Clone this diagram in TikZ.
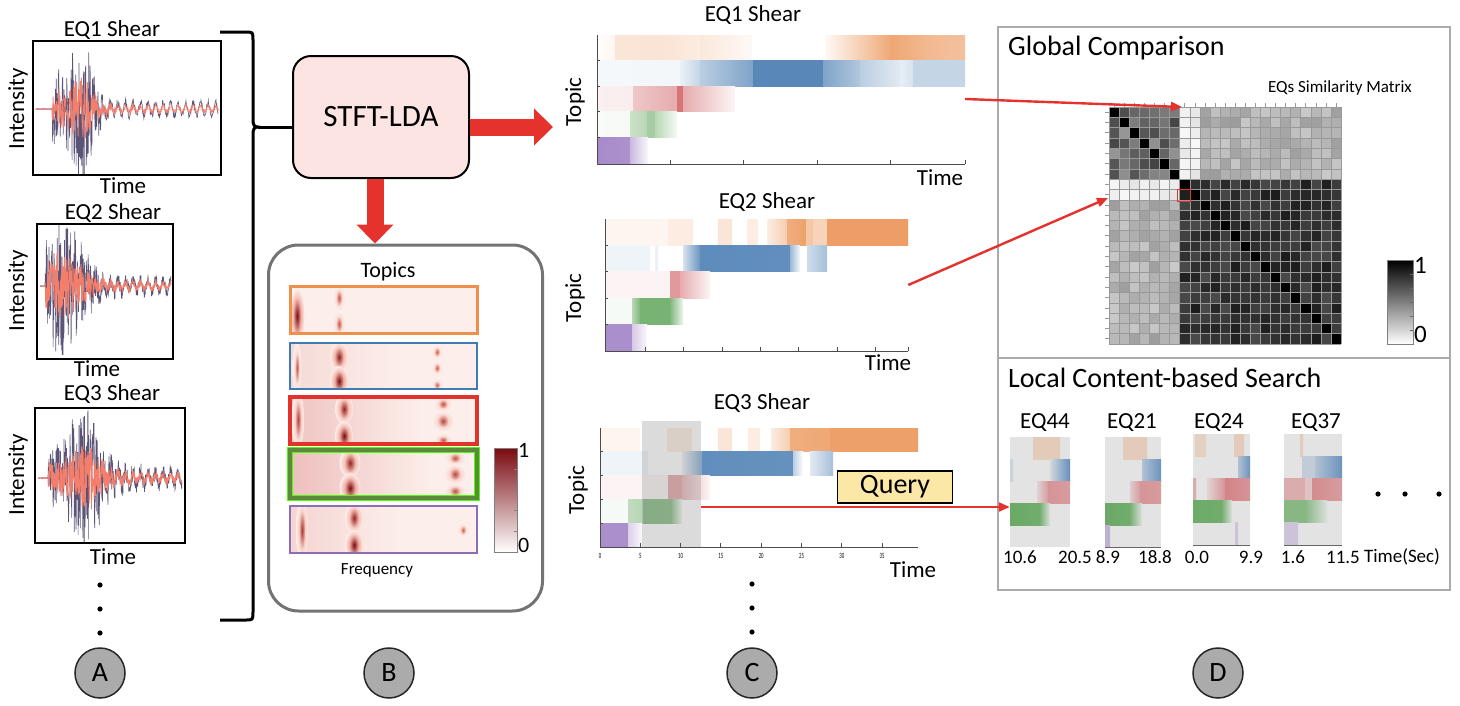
\documentclass[tikz,border=0pt]{standalone}
\usepackage{fontspec}
\setmainfont{Carlito}
\usetikzlibrary{arrows.meta, positioning, calc}
\definecolor{tOra}{HTML}{E8823A}
\definecolor{tBlu}{HTML}{3A72AC}
\definecolor{tRed}{HTML}{C8454A}
\definecolor{tGrn}{HTML}{4C9A45}
\definecolor{tPur}{HTML}{8A63B8}
\definecolor{frOra}{HTML}{EE8F4C}
\definecolor{frBlu}{HTML}{3F7CB6}
\definecolor{frRed}{HTML}{E3312B}
\definecolor{frGrn}{HTML}{5B8B3A}
\definecolor{frPur}{HTML}{8C6DB7}
\definecolor{arrowred}{HTML}{E5322D}
\definecolor{stftfill}{HTML}{FBE4E2}
\definecolor{tpbg}{HTML}{FCEEEA}
\definecolor{tpdark}{HTML}{7A0A10}
\definecolor{cbmid}{HTML}{E86A55}
\definecolor{queryfill}{HTML}{FCE8A6}
\definecolor{panelgray}{HTML}{ABABAB}
\definecolor{wavedark}{HTML}{3F365F}
\definecolor{wavesalmon}{HTML}{F47E6C}
\definecolor{minibg}{HTML}{E3E3E3}
\newcommand\fsBig{\fontsize{31}{35}\selectfont}
\newcommand\fsHead{\fontsize{28}{32}\selectfont}
\newcommand\fsMid{\fontsize{23}{27}\selectfont}
\newcommand\fsSmall{\fontsize{17}{20}\selectfont}
\newcommand\fsNum{\fontsize{19}{22}\selectfont}
% one row of a topic heatmap: [mix colour]{y}{height}{colour}{x1/x2/i1/i2,...}
\newcommand\hrow[5][white]{\foreach \xa/\xb/\ia/\ib in {#5}{\shade[left color=#4!\ia!#1, right color=#4!\ib!#1] (\xa,#2) rectangle (\xb,#2+#3);}}
% seismogram: {x1}{x2}{centre}{onset}{peak}{width}{amplitude}{decay}{style}
\newcommand\wave[9]{\draw[#9] plot[domain=#1:#2,samples=450] (\x,{#3+((\x<#4)?0.3:(#7*exp(-((\x-#5)/#6)*((\x-#5)/#6))+0.5*#7*exp(-(\x-#4)/#8)+0.05*#7))*rand+((\x<#4)?0:0.12*#7*sin(48*\x))});}
% spectral blob in a topic strip: red halo, dark core
\newcommand\blob[5]{\pgfmathsetmacro\blmix{0.42*#5}%
  \shade[inner color=cbmid!#5!tpbg, outer color=tpbg] (#1,#2) ellipse ({1.5*#3} and {1.25*#4});
  \shade[inner color=tpdark!#5!cbmid, outer color=cbmid!\blmix!tpbg] (#1,#2) ellipse ({0.8*#3} and {0.8*#4});}
\begin{document}
\begin{tikzpicture}[x=1pt,y=-1pt,
    plotbox/.style={draw=black, line width=1.3pt},
    wvdark/.style={draw=wavedark, line width=0.6pt, opacity=0.85},
    wvlight/.style={draw=wavesalmon, line width=0.8pt},
    stftbox/.style={rectangle, draw=black, fill=stftfill, line width=2pt, rounded corners=18pt, minimum width=176pt, minimum height=122pt, font=\fsBig},
    topicsbox/.style={rectangle, draw=black!55, line width=3pt, rounded corners=30pt, minimum width=274pt, minimum height=366pt},
    bigarrow/.style={draw=arrowred, line width=17pt, -{Triangle[length=19pt,width=36pt]}},
    redline/.style={draw=arrowred, line width=2.4pt, -{Triangle[length=11pt,width=9pt]}},
    hmframe/.style={inner sep=0pt, minimum width=#1},
    axisln/.style={draw=black!70, line width=1pt},
    panel/.style={rectangle, draw=panelgray, line width=2.5pt, inner sep=0pt},
    query/.style={rectangle, draw=black, fill=queryfill, line width=1.3pt, minimum width=115pt, minimum height=32pt, font=\fsHead},
    tag/.style={circle, draw=black!85, fill=panelgray, line width=1.5pt, minimum size=50pt, inner sep=0pt, font=\fsHead},
    mid/.style={font=\fsMid, inner sep=1pt},
    small/.style={font=\fsSmall, inner sep=1pt},
    num/.style={font=\fsNum, inner sep=1pt},
]
\useasboundingbox (0,0) rectangle (1460,705);
\pgfmathsetseed{17}

% ---------------- A: seismograms
\node[mid] (a1t) at (112,30) {EQ1 Shear};
\node[mid] (a2t) at (113,213) {EQ2 Shear};
\node[mid] (a3t) at (112,394) {EQ3 Shear};
\begin{scope}
  \clip (33,41) rectangle (221,175);
  \draw[wavesalmon!40] (33,109) -- (221,109);
  \wave{36}{218}{109}{52}{80}{16}{56}{25}{wvdark}
  \wave{36}{218}{109}{52}{80}{16}{26}{25}{wvlight}
\end{scope}
\begin{scope}
  \clip (37,224) rectangle (173,359);
  \wave{40}{171}{286}{45}{64}{22}{50}{45}{wvdark}
  \wave{40}{171}{286}{45}{64}{22}{24}{45}{wvlight}
\end{scope}
\begin{scope}
  \clip (35,408) rectangle (185,543);
  \wave{38}{182}{478}{48}{85}{18}{55}{60}{wvdark}
  \wave{38}{182}{478}{48}{85}{18}{26}{60}{wvlight}
\end{scope}
\draw[plotbox] (33,41) rectangle (221,175);
\draw[plotbox] (37,224) rectangle (173,359);
\draw[plotbox] (35,408) rectangle (185,543);
\node[mid, rotate=90] (a1y) at (18,109) {Intensity};
\node[mid, rotate=90] (a2y) at (18,291) {Intensity};
\node[mid, rotate=90] (a3y) at (18,475) {Intensity};
\node[mid] (a1x) at (123,186) {Time};
\node[mid] (a2x) at (97,369) {Time};
\node[mid] (a3x) at (113,557) {Time};
\foreach \y in {585,609,633} \fill (100,\y) circle (2.6);

% brace into STFT-LDA
\coordinate (bt) at (258,127);
\draw[line width=3pt] (220,32) -- (245,32) .. controls (253,32) .. (253,40) -- (253,119)
  .. controls (253,125) and (254,127) .. (bt)
  .. controls (254,127) and (253,129) .. (253,135) -- (253,612)
  .. controls (253,620) .. (245,620) -- (220,620);

% ---------------- B: STFT-LDA and topics
\node[stftbox] (stft) at (381,117) {STFT-LDA};
\draw[line width=3pt] (bt) -- (bt -| stft.west);
\node[topicsbox] (topics) at (405.5,428) {};
\draw[bigarrow] (bt -| stft.east) -- (553,127);
\draw[bigarrow] (stft.south -| 375,0) -- (topics.north -| 375,0);
\node[mid, font=\fontsize{22}{26}\selectfont] (tptitle) at (388,272) {Topics};
\begin{scope}
  \clip (290,286) rectangle (477,333);
  \fill[tpbg] (290,286) rectangle (477,333);
  \blob{297}{316}{5}{22}{100}\blob{339}{298}{4}{10}{25}\blob{339}{324}{4}{10}{25}
\end{scope}
\begin{scope}
  \clip (290,343) rectangle (477,389);
  \fill[tpbg] (290,343) rectangle (477,389);
  \shade[left color=tRed!12!tpbg, right color=tpbg] (290,343) rectangle (400,389);
  \blob{297}{368}{3}{20}{25}\blob{339}{357}{6}{12}{80}\blob{339}{381}{6}{12}{100}
  \blob{437}{352}{4}{6}{15}\blob{437}{368}{4}{6}{15}\blob{437}{385}{4}{5}{15}
\end{scope}
\begin{scope}
  \clip (290,397) rectangle (477,444);
  \fill[tpbg] (290,397) rectangle (477,444);
  \shade[left color=tRed!25!tpbg, right color=tpbg] (290,397) rectangle (420,444);
  \blob{298}{420}{4}{24}{45}\blob{344}{409}{6}{12}{75}\blob{344}{436}{6}{12}{100}
  \blob{443}{404}{6}{6}{30}\blob{443}{421}{7}{8}{40}\blob{443}{440}{6}{5}{30}
\end{scope}
\begin{scope}
  \clip (290,450) rectangle (477,498);
  \fill[tpbg] (290,450) rectangle (477,498);
  \shade[left color=tRed!28!tpbg, right color=tpbg] (290,450) rectangle (430,498);
  \blob{350}{463}{7}{12}{75}\blob{350}{488}{7}{12}{100}
  \blob{455}{458}{7}{6}{30}\blob{455}{474}{7}{8}{40}\blob{455}{491}{7}{6}{35}
\end{scope}
\begin{scope}
  \clip (290,506) rectangle (477,553);
  \fill[tpbg] (290,506) rectangle (477,553);
  \shade[left color=tRed!15!tpbg, right color=tpbg] (290,506) rectangle (400,553);
  \blob{302}{530}{4}{24}{55}\blob{354}{518}{6}{12}{75}\blob{354}{545}{6}{12}{100}\blob{463}{530}{4}{6}{12}
\end{scope}
\draw[frOra, line width=3pt] (290,286) rectangle (477,333);
\draw[frBlu, line width=2.5pt] (290,343) rectangle (477,389);
\draw[frRed, line width=3.5pt] (290,397) rectangle (477,444);
\draw[green!60!lime, line width=6.5pt] (290,450) rectangle (477,498);
\draw[frGrn, line width=4.5pt] (290,450) rectangle (477,498);
\draw[frPur, line width=2.5pt] (290,506) rectangle (477,553);
\node[small] (freq) at (377,570) {Frequency};
\shade[top color=tpdark, middle color=cbmid, bottom color=white] (494,448) rectangle (517,552);
\draw[black!50, line width=0.6pt] (494,448) rectangle (517,552);
\foreach \y in {469,490,510,531} \draw[black!50] (517,\y) -- ++(-3,0);
\node[mid, anchor=west, font=\fontsize{22}{26}\selectfont] (cb1) at (517,450) {1};
\node[mid, anchor=west, font=\fontsize{22}{26}\selectfont] (cb0) at (517,545) {0};

% ---------------- C: topic activations over time
\node[mid] (c1t) at (753,15) {EQ1 Shear};
\node[hmframe=368pt, minimum height=128pt] (hm1) at (781,99) {};
\hrow{35}{25.6}{tOra}{597/615/0/8, 615/660/20/22, 660/700/22/15, 700/752/18/5, 825/867/5/45, 867/893/45/72, 893/930/70/55, 930/965/55/50}
\hrow{60.6}{25.6}{tBlu}{597/680/5/6, 680/700/10/30, 700/753/35/65, 753/823/85/85, 823/860/65/40, 860/900/35/15, 900/913/12/20, 913/965/30/30}
\hrow{86.2}{25.6}{tRed}{597/633/8/10, 633/677/30/45, 677/683/75/75, 683/735/45/5}
\hrow{111.8}{25.6}{tGrn}{597/630/4/5, 630/647/30/40, 647/655/50/50, 655/677/40/5}
\hrow{137.4}{25.6}{tPur}{597/630/75/70, 630/648/45/5}
\draw[axisln] (597,35) -- (597,164) -- (965,164);
\foreach \x in {670,743,817,890,965} \draw[axisln] (\x,164) -- ++(0,-4);
\foreach \y in {60.6,86.2,111.8,137.4} \draw[axisln] (597,\y) -- ++(3,0);
\node[mid, rotate=90] (c1y) at (575,102) {Topic};
\node[mid] (c1x) at (940,178) {Time};

\node[mid] (c2t) at (767,202) {EQ2 Shear};
\node[hmframe=303pt, minimum height=132pt] (hm2) at (756.5,285) {};
\hrow{219}{26.4}{tOra}{605/668/8/8, 668/693/15/15, 718/732/20/20, 747/758/15/15, 767/787/15/40, 787/806/65/75, 806/813/45/45, 813/827/35/35, 827/908/78/78}
\hrow{245.4}{26.4}{tBlu}{605/650/8/8, 655/658/10/10, 683/700/20/75, 700/790/82/80, 790/800/50/5, 807/827/25/45}
\hrow{271.8}{26.4}{tRed}{605/670/6/6, 670/680/55/55, 680/710/45/5}
\hrow{298.2}{26.4}{tGrn}{605/632/5/5, 632/640/40/70, 640/670/75/75, 670/683/70/10}
\hrow{324.6}{26.4}{tPur}{605/632/72/72, 632/647/35/5}
\draw[axisln] (605,219) -- (605,351) -- (908,351);
\foreach \x in {645,683,722,760,798,837,875,908} \draw[axisln] (\x,351) -- ++(0,-4);
\foreach \y in {245.4,271.8,298.2,324.6} \draw[axisln] (605,\y) -- ++(3,0);
\node[mid, rotate=90] (c2y) at (575,298) {Topic};
\node[mid] (c2x) at (888,363) {Time};

\node[mid] (c3t) at (762,403) {EQ3 Shear};
\hrow{428}{23.8}{tOra}{600/640/8/8, 667/692/15/15, 718/732/20/20, 748/760/15/15, 771/790/15/40, 790/830/65/70, 830/918/76/76}
\hrow{451.8}{23.8}{tBlu}{600/648/8/8, 682/702/10/65, 702/793/80/78, 793/803/35/0, 810/833/15/45}
\hrow{475.6}{23.8}{tRed}{600/668/6/6, 668/682/50/50, 682/710/40/5}
\hrow{499.4}{23.8}{tGrn}{600/628/5/5, 628/643/35/40, 643/672/72/70, 672/682/60/5}
\hrow{523.2}{23.8}{tPur}{600/628/72/72, 628/642/30/5}
\node[fill=black!40, opacity=0.35, inner sep=0pt, minimum width=59pt, minimum height=126pt] (qwin) at (671.5,484) {};
\draw[axisln] (600,428) -- (600,547) -- (918,547);
\foreach \t [count=\k from 0] in {0,5,...,35}{
  \draw[axisln] ({600+\k*40.3},547) -- ++(0,-4);
  \node[font=\fontsize{8}{9}\selectfont, inner sep=0pt, xscale=0.6] at ({600+\k*40.3},556) {\t};}
\foreach \y in {451.8,475.6,499.4,523.2} \draw[axisln] (600,\y) -- ++(3,0);
\node[mid, rotate=90] (c3y) at (578,490) {Topic};
\node[mid] (c3x) at (913,570) {Time};
\node[query] (query) at (895,487) {Query};
\foreach \y in {584,608,632} \fill (752,\y) circle (2.6);

% ---------------- D: comparison panels
\node[panel, minimum width=452pt, minimum height=331pt] (glob) at (1224,192.5) {};
\node[panel, minimum width=452pt, minimum height=232pt] (loc) at (1224,474) {};
\node[font=\fsHead, anchor=west, inner sep=0pt] (gtitle) at (1008,48) {Global Comparison};
\node[small] (smtitle) at (1340,88) {EQs Similarity Matrix};
\node[inner sep=0pt, minimum width=232pt, minimum height=237pt] (simm) at (1225,225.5) {};
\foreach \r in {0,...,22}{\foreach \c in {0,...,22}{
  \pgfmathsetmacro\v{ifthenelse(\r==\c,100,ifthenelse(and(\r<7,\c<7),58+18*rand,ifthenelse(or(\r<7,\c<7),ifthenelse(max(\r,\c)<9,7+4*rand,30+9*rand),80+9*rand)))}
  \fill[black!\v] ({1109+\c*10.087},{107+\r*10.3}) rectangle ++(10.087,10.3);}}
\foreach \i in {0,...,23}{
  \draw[black!40, line width=0.4pt] ({1109+\i*10.087},107) -- ++(0,237);
  \draw[black!40, line width=0.4pt] (1109,{107+\i*10.3}) -- ++(232,0);}
\foreach \i in {0,...,22}{
  \draw[black!40] ({1114+\i*10.087},107) -- ++(0,-4);
  \draw[black!40] (1109,{112+\i*10.3}) -- ++(-4,0);}
\draw[arrowred, line width=1pt] (1177,189) rectangle (1190,201);
\coordinate (c7) at (1182,107);
\coordinate (r8) at (1108,198);
\draw[redline] (hm1.east) -- (c7);
\draw[redline] (hm2.east) -- (r8);
\shade[top color=black, bottom color=white] (1387,260) rectangle (1413,344);
\draw[black!50, line width=0.6pt] (1387,260) rectangle (1413,344);
\foreach \y in {274,288,302,316,330} \draw[black!60] (1413,\y) -- ++(-3,0);
\node[font=\fontsize{25}{28}\selectfont, anchor=west, inner sep=1pt] (sb1) at (1413,265) {1};
\node[font=\fontsize{25}{28}\selectfont, anchor=west, inner sep=1pt] (sb0) at (1413,334) {0};

\node[font=\fsHead, anchor=west, inner sep=0pt] (ltitle) at (1008,378) {Local Content-based Search};
\foreach \nm/\cx in {EQ44/1045, EQ21/1132, EQ24/1219, EQ37/1316} \node[mid] at (\cx,423) {\nm};
% EQ44
\fill[minibg] (1010,437) rectangle (1070,547);
\hrow[minibg]{437}{22}{tOra}{1033/1060/25/25}
\hrow[minibg]{459}{22}{tBlu}{1010/1013/15/15, 1050/1070/10/75}
\hrow[minibg]{481}{22}{tRed}{1037/1048/10/45, 1048/1070/50/45}
\hrow[minibg]{503}{22}{tGrn}{1010/1040/80/75, 1040/1050/70/5}
\node[inner sep=0pt, minimum width=60pt, minimum height=22pt] (m44) at (1040,514) {};
% EQ21
\fill[minibg] (1105,437) rectangle (1161,547);
\hrow[minibg]{437}{22}{tOra}{1123/1147/25/25}
\hrow[minibg]{459}{22}{tBlu}{1142/1161/30/70}
\hrow[minibg]{481}{22}{tRed}{1130/1140/15/45, 1140/1161/50/45}
\hrow[minibg]{503}{22}{tGrn}{1105/1130/80/75, 1130/1142/70/5}
\hrow[minibg]{525}{22}{tPur}{1105/1110/40/40}
% EQ24
\fill[minibg] (1193,434) rectangle (1250,545);
\hrow[minibg]{434}{22.2}{tOra}{1195/1206/20/20, 1234/1244/25/25}
\hrow[minibg]{456.2}{22.2}{tBlu}{1238/1250/30/70}
\hrow[minibg]{478.4}{22.2}{tRed}{1193/1196/35/35, 1207/1225/10/50, 1225/1250/60/50}
\hrow[minibg]{500.6}{22.2}{tGrn}{1193/1222/78/75, 1222/1232/70/5}
\hrow[minibg]{522.8}{22.2}{tPur}{1235/1238/25/25}
% EQ37
\fill[minibg] (1284,434) rectangle (1342,545);
\hrow[minibg]{434}{22.2}{tOra}{1300/1303/25/25}
\hrow[minibg]{456.2}{22.2}{tBlu}{1302/1315/20/20, 1315/1342/30/70}
\hrow[minibg]{478.4}{22.2}{tRed}{1284/1305/35/35, 1305/1312/20/20, 1312/1342/55/45}
\hrow[minibg]{500.6}{22.2}{tGrn}{1284/1305/60/60, 1305/1327/60/5}
\hrow[minibg]{522.8}{22.2}{tPur}{1284/1298/25/25}
\draw[black!60, line width=1pt] (1105,547) -- (1161,547) (1193,545) -- (1250,545) (1284,545) -- (1342,545);
\foreach \nm/\cx in {10.6/1020, 20.5/1075, 8.9/1108, 18.8/1155, 0.0/1197, 9.9/1251, 1.6/1293, 11.5/1343, Time(Sec)/1402} \node[num] at (\cx,557) {\nm};
\foreach \x in {1378,1405,1439} \fill (\x,494) circle (2.6);
\coordinate (qsrc) at (qwin.east |- 0,507);
\draw[redline] (qsrc) -- (m44.west |- qsrc);

% ---------------- stage tags
\foreach \lbl/\cx in {A/100, B/389, C/752, D/1218} \node[tag] (tag\lbl) at (\cx,673) {\lbl};
\end{tikzpicture}
\end{document}
